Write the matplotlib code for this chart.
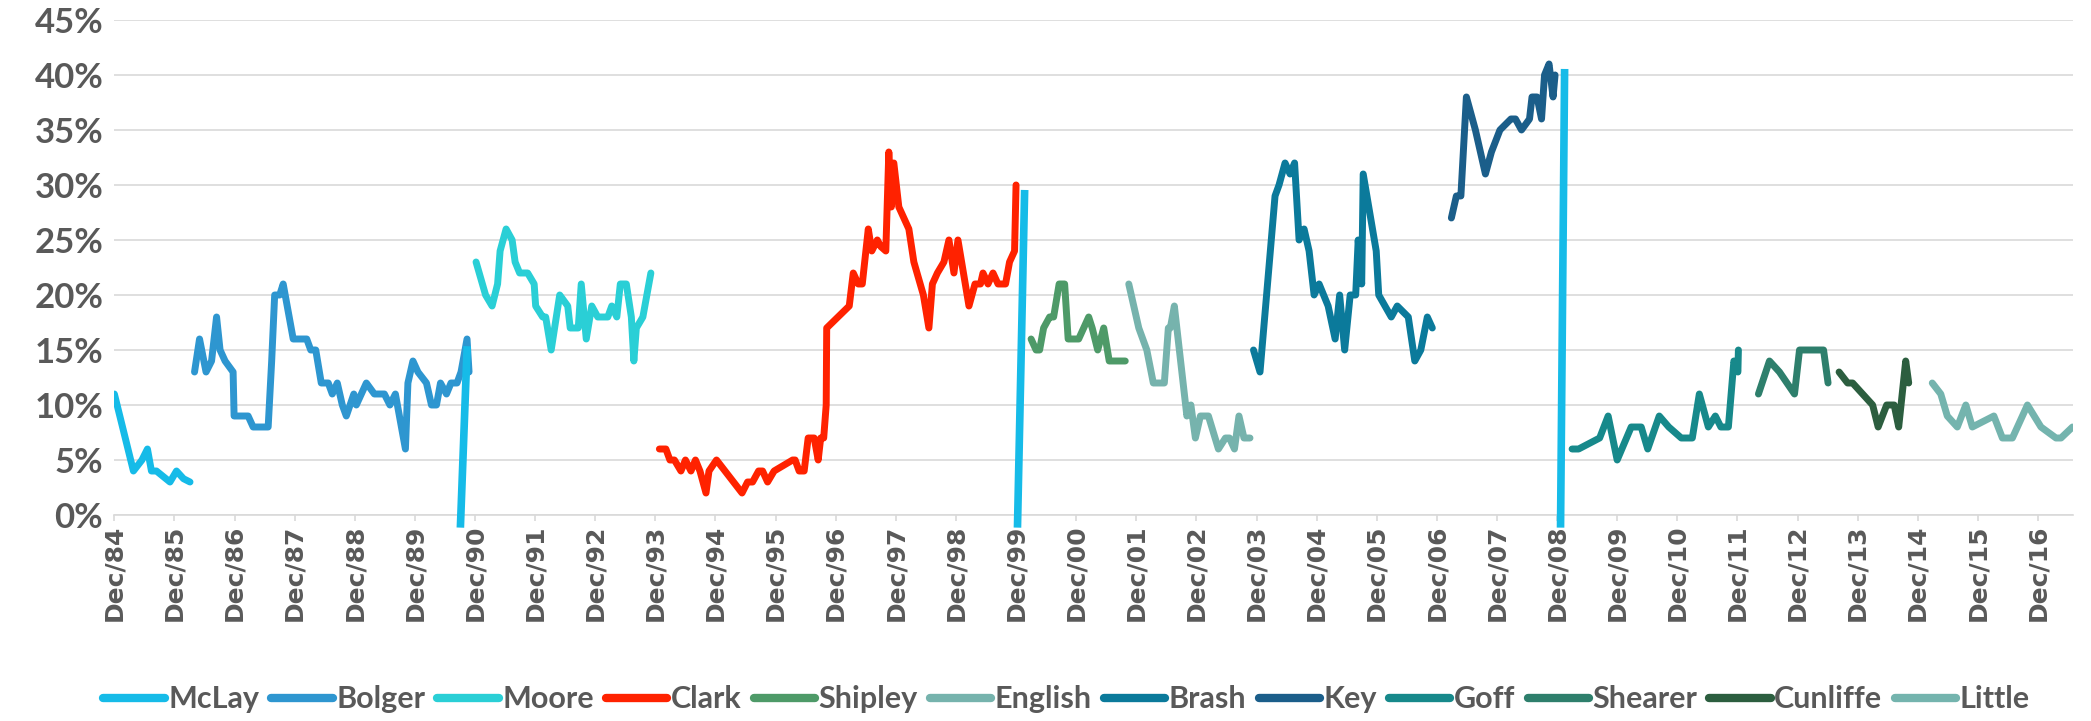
import matplotlib
matplotlib.use("Agg")
import matplotlib.pyplot as plt
import numpy as np

# x values are months since Dec 1984, y values are preferred-PM poll shares (%)
mclay_m = [0, 3.8, 5.5, 6.6, 7.4, 8.4, 11.1, 12.4, 13.8, 15.1]
mclay_v = [11, 4, 5, 6, 4, 4, 3, 4, 3.3, 3]

bolger_m = [16, 17, 18.3, 19.4, 20.4, 21.1, 22.1, 23.7, 23.9, 26.7, 27.7, 30.7, 31.4, 32, 33, 33.7,
            35.7, 38.4, 39.2, 40.2, 41.3, 42.7, 43.5, 44.5, 45.5, 46.3, 47.8, 48.3, 50.3, 51.9, 53.9,
            55.0, 56.1, 58.1, 58.6, 59.6, 60.6, 62.3, 63.3, 64.3, 65.1, 66.3, 67.2, 68.4, 69.2, 70.4, 70.8]
bolger_v = [13, 16, 13, 14, 18, 15, 14, 13, 9, 9, 8, 8, 14, 20, 20, 21,
            16, 16, 15, 15, 12, 12, 11, 12, 10, 9, 11, 10, 12, 11, 11,
            10, 11, 6, 12, 14, 13, 12, 10, 10, 12, 11, 12, 12, 13, 16, 13]

moore_m = [72.2, 74.1, 75.4, 76.5, 77.0, 78.2, 79.4, 80.0, 80.9, 82.5, 83.8, 84.1, 85.5, 86.1, 87.2,
           88.9, 90.5, 91.0, 92.6, 93.2, 94.2, 95.3, 96.5, 98.5, 99.3, 100.3, 101.0, 102.2, 103.2,
           103.7, 104.2, 105.5, 107.1]
moore_v = [23, 20, 19, 21, 24, 26, 25, 23, 22, 22, 21, 19, 18, 18, 15,
           20, 19, 17, 17, 21, 16, 19, 18, 18, 19, 18, 21, 21, 18,
           14, 17, 18, 22]

clark_m = [108.8, 110.1, 110.9, 111.8, 113.1, 114.0, 115.1, 116.0, 116.9, 118.1, 118.7, 120.2, 125.3,
           126.4, 127.4, 128.6, 129.4, 130.4, 131.7, 135.4, 135.9, 136.7, 137.7, 138.5, 139.7, 140.5,
           141.0, 141.6, 142.1, 142.2, 146.7, 147.5, 148.5, 149.3, 150.5, 151.2, 152.3, 153.0, 154.0,
           154.6, 155.1, 155.6, 156.6, 158.6, 159.6, 161.5, 162.6, 163.3, 164.3, 165.6, 166.6, 167.6,
           168.4, 170.6, 171.8, 172.9, 173.4, 174.4, 175.4, 176.4, 177.9, 178.7, 179.7, 180.0]
clark_v = [6, 6, 5, 5, 4, 5, 4, 5, 4, 2, 4, 5, 2,
           3, 3, 4, 4, 3, 4, 5, 5, 4, 4, 7, 7, 5,
           7, 7, 10, 17, 19, 22, 21, 21, 26, 24, 25, 24.4, 24,
           33, 28, 32, 28, 26, 23, 20, 17, 21, 22, 23, 25, 22,
           25, 19, 21, 21, 22, 21, 22, 21, 21, 23, 24, 30]

shipley_m = [183.0, 184.0, 184.7, 185.5, 186.7, 187.5, 188.6, 189.7, 190.4, 192.5, 194.5, 195.2,
             196.3, 197.5, 198.6, 201.8]
shipley_v = [16, 15, 15, 17, 18, 18, 21, 21, 16, 16, 18, 17, 15, 17, 14, 14]

english_m = [202.5, 204.5, 206.1, 207.4, 209.6, 210.4, 210.8, 211.6, 214.1, 214.9, 215.8, 216.8,
             218.4, 220.4, 221.8, 222.6, 223.6, 224.5, 225.5, 226.7]
english_v = [21, 17, 15, 12, 12, 17, 17, 19, 9, 10, 7, 9, 9, 6, 7, 7, 6, 9, 7, 7]

brash_m = [227.4, 228.7, 231.7, 232.5, 233.7, 234.7, 235.6, 236.5, 237.5, 238.5, 239.5, 240.5, 242.3,
           243.7, 244.6, 245.6, 246.7, 247.8, 248.3, 249.0, 249.3, 251.9, 252.4, 254.9, 256.1, 258.3,
           259.6, 260.8, 262.1, 263.1]
brash_v = [15, 13, 29, 30, 32, 31, 32, 25, 26, 24, 20, 21, 19,
           16, 20, 15, 20, 20, 25, 21, 31, 24, 20, 18, 19, 18,
           14, 15, 18, 17]

key_m = [266.9, 267.9, 268.8, 269.9, 271.7, 273.7, 274.9, 276.6, 278.8, 279.7, 280.9, 282.5, 283.0,
         284.0, 284.9, 285.5, 286.4, 287.2, 287.6]
key_v = [27, 29, 29, 38, 35, 31, 33, 35, 36, 36, 35, 36, 38, 38, 36, 40, 41, 38, 40]

goff_m = [291.0, 292.3, 296.5, 298.2, 300.0, 302.8, 304.8, 306.1, 308.4, 310.3, 312.8, 315.0, 316.4,
          318.2, 319.6, 320.7, 322.2, 323.3, 324.1, 324.2]
goff_v = [6, 6, 7, 9, 5, 8, 8, 6, 9, 8, 7, 7, 11, 8, 9, 8, 8, 14, 13, 15]

shearer_m = [328.2, 330.4, 332.4, 335.4, 336.4, 341.2, 342.1]
shearer_v = [11, 14, 13, 11, 15, 15, 12]

cunliffe_m = [344.3, 346.0, 347.0, 351.0, 352.1, 353.8, 355.3, 356.2, 357.6, 358.2]
cunliffe_v = [13, 12, 12, 10, 8, 10, 10, 8, 14, 12]

little_m = [362.9, 364.6, 365.9, 367.9, 369.6, 370.9, 375.2, 376.9, 378.9, 381.9, 384.6, 387.6, 388.6, 390.9]
little_v = [12, 11, 9, 8, 10, 8, 9, 7, 7, 10, 8, 7, 7, 8]

# election markers (drawn in the McLay colour in the original)
elect_m0 = [69.1, 180.3, 288.7]
elect_m1 = [70.4, 181.7, 289.5]
elect_v0 = [-0.8, -0.8, -0.8]
elect_v1 = [15, 29.2, 40.2]

tick_labels = ["Dec/%02d" % (y % 100) for y in range(1984, 2017)]

leaders = ["McLay", "Bolger", "Moore", "Clark", "Shipley", "English",
           "Brash", "Key", "Goff", "Shearer", "Cunliffe", "Little"]
series_m = [mclay_m, bolger_m, moore_m, clark_m, shipley_m, english_m,
            brash_m, key_m, goff_m, shearer_m, cunliffe_m, little_m]
series_v = [mclay_v, bolger_v, moore_v, clark_v, shipley_v, english_v,
            brash_v, key_v, goff_v, shearer_v, cunliffe_v, little_v]
colors = ["#16bbe8", "#2e96d0", "#2acfd6", "#ff2200", "#4e9a68", "#76b3ad",
          "#0b7a9b", "#1b5e8a", "#17898b", "#2e7f6c", "#2c5e3f", "#74b4ae"]

fig = plt.figure(figsize=(20.91, 7.21), dpi=100)
ax = fig.add_axes([0.0547, 0.2857, 0.9367, 0.6866])

lw = 5
for m, v, c, name in zip(series_m, series_v, colors, leaders):
    ax.plot(m, v, color=c, lw=lw, label=name, solid_capstyle="round", solid_joinstyle="round", zorder=3)

for a, b, c, d in zip(elect_m0, elect_m1, elect_v0, elect_v1):
    ax.plot([a, b], [c, d], color=colors[0], lw=5.5, clip_on=False, zorder=4)

ax.set_xlim(0, 391)
ax.set_ylim(0, 45)
ax.set_yticks(np.arange(0, 46, 5))
ax.set_yticklabels(["%d%%" % t for t in range(0, 46, 5)])
ax.set_xticks(np.arange(0, 12 * len(tick_labels), 12))
ax.set_xticklabels(tick_labels, rotation=90)

ax.grid(axis="y", color="#d9d9d9", lw=1.2, zorder=0)
ax.set_axisbelow(True)
for s in ["top", "right", "left"]:
    ax.spines[s].set_visible(False)
ax.spines["bottom"].set_color("#d9d9d9")
ax.spines["bottom"].set_linewidth(1.2)
ax.tick_params(axis="x", direction="out", length=4, width=1.2, color="#d9d9d9", pad=3)
ax.tick_params(axis="y", length=0, pad=8)

for lab in ax.get_xticklabels():
    lab.set_fontfamily("DejaVu Sans")
    lab.set_fontweight("bold")
    lab.set_fontsize(18)
    lab.set_color("#595959")
for lab in ax.get_yticklabels():
    lab.set_fontfamily("Lato")
    lab.set_fontweight("bold")
    lab.set_fontsize(25)
    lab.set_color("#595959")

leg = fig.legend(loc="center", bbox_to_anchor=(0.51, 0.03), ncol=12, frameon=False,
                 prop={"family": "Lato", "weight": "bold", "size": 22}, handlelength=2.0,
                 handletextpad=0.12, columnspacing=0.4)
for t in leg.get_texts():
    t.set_color("#595959")
for h in leg.get_lines():
    h.set_linewidth(6)
    h.set_solid_capstyle("round")

fig.savefig("out.png", dpi=100)
